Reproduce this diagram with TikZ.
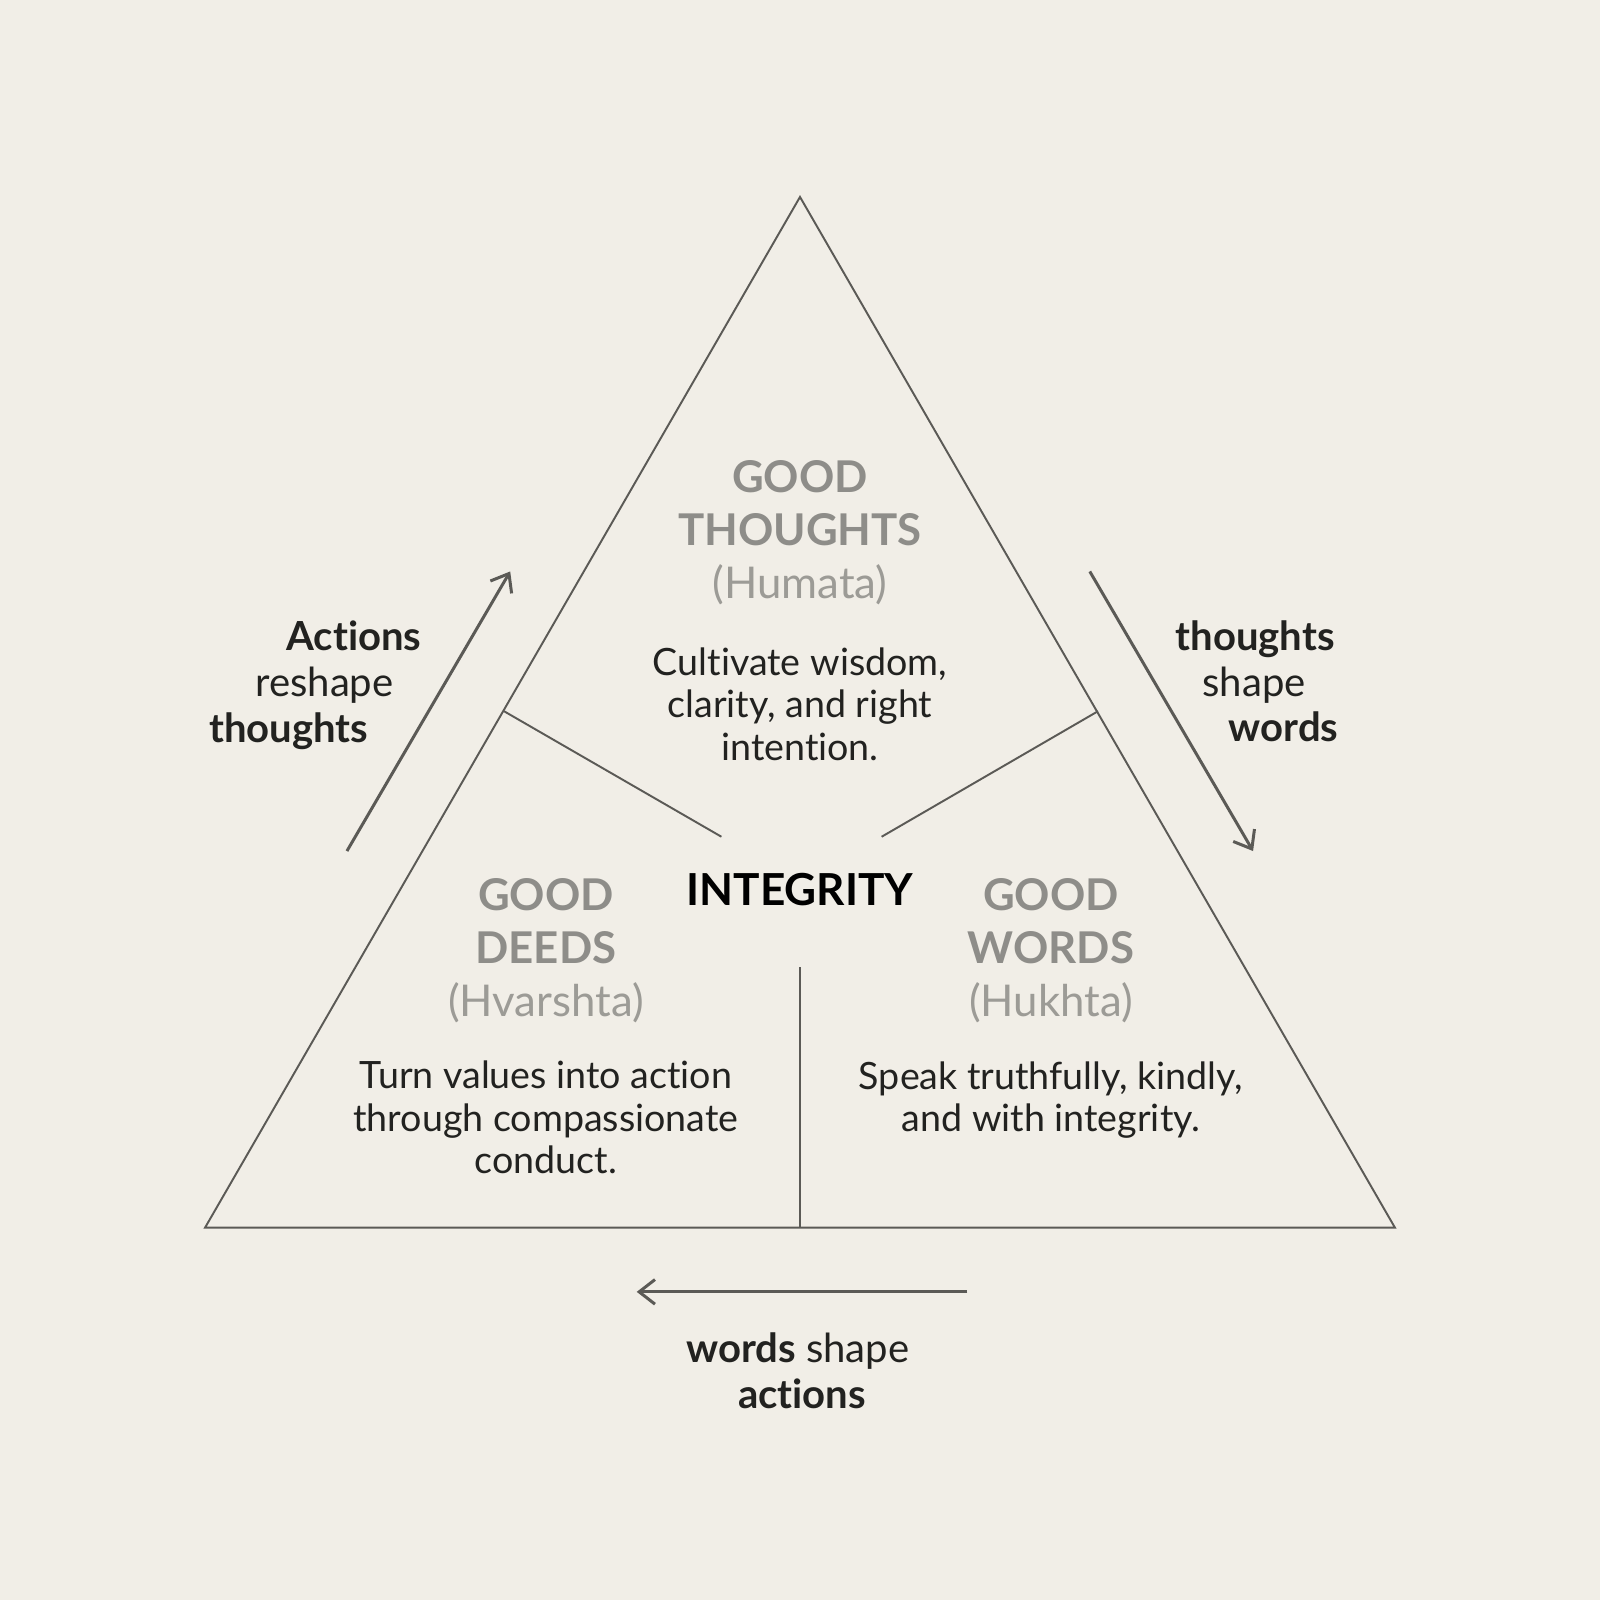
\documentclass[tikz,border=0pt]{standalone}
\usepackage{fontspec}
\setmainfont{Lato}[Ligatures=NoCommon]
\usetikzlibrary{arrows.meta}
\definecolor{bgcol}{HTML}{F1EEE7}
\definecolor{linecol}{HTML}{5B5A56}
\definecolor{headcol}{HTML}{8E8D89}
\definecolor{subcol}{HTML}{9C9B96}
\definecolor{textcol}{HTML}{222220}
\tikzset{
  edge/.style={draw=linecol, line width=0.55pt},
  flow/.style={draw=linecol, line width=0.85pt, -{Straight Barb[length=4.5pt, width=7pt, line width=0.85pt]}},
  head/.style={inner sep=0pt, align=center, text=headcol, font=\bfseries\fontsize{12.45}{15.1}\selectfont},
  desc/.style={inner sep=0pt, align=center, text=textcol, font=\fontsize{10.7}{12.1}\selectfont},
  lbl/.style={inner sep=0pt, text=textcol, font=\fontsize{11.4}{12.8}\selectfont},
  lblb/.style={lbl, font=\bfseries\fontsize{11.4}{12.8}\selectfont},
}
\begin{document}
\begin{tikzpicture}[x=16cm/1568, y=-16cm/1568]
  \fill[bgcol] (0,0) rectangle (1568,1568);
  \useasboundingbox (0,0) rectangle (1568,1568);

  % triangle and dividers
  \coordinate (apex) at (784,193);
  \coordinate (bl) at (201,1203);
  \coordinate (br) at (1367,1203);
  \coordinate (ml) at (494,697);
  \coordinate (mr) at (1076,697);
  \coordinate (cl) at (707,820);
  \coordinate (cr) at (864,820);
  \coordinate (cb) at (784,948);
  \coordinate (bm) at (784,1203);
  \draw[edge] (apex) -- (br) -- (bl) -- cycle;
  \draw[edge] (ml) -- (cl);
  \draw[edge] (mr) -- (cr);
  \draw[edge] (cb) -- (bm);

  % cycle arrows
  \coordinate (la) at (340,834);
  \coordinate (lb) at (500,560);
  \coordinate (ra) at (1068,560);
  \coordinate (rb) at (1228,834);
  \coordinate (ba) at (948,1266);
  \coordinate (bb) at (624,1266);
  \draw[flow] (la) -- (lb);
  \draw[flow] (ra) -- (rb);
  \draw[flow] (ba) -- (bb);

  % sections
  \node[head] (thoughts) at (784,522) {GOOD\\THOUGHTS\\{\mdseries\color{subcol}(Humata)}};
  \node[desc] (thoughtsdesc) at (784,690) {Cultivate wisdom,\\clarity, and right\\intention.};
  \node[inner sep=0pt, text=black, font=\bfseries\fontsize{12.55}{15}\selectfont] (integrity) at (784,872) {INTEGRITY};
  \node[head] (deeds) at (535,932) {GOOD\\DEEDS\\{\mdseries\color{subcol}(Hvarshta)}};
  \node[desc] (deedsdesc) at (535,1095) {Turn values into action\\through compassionate\\conduct.};
  \node[head] (words) at (1030,932) {GOOD\\WORDS\\{\mdseries\color{subcol}(Hukhta)}};
  \node[desc] (wordsdesc) at (1030,1078) {Speak truthfully, kindly,\\and with integrity.};

  % arrow labels
  \node[lblb] (l1) at (347,623) {Actions};
  \node[lbl] (l2) at (318,671) {reshape};
  \node[lblb] (l3) at (283,717) {thoughts};
  \node[lblb] (r1) at (1230,626) {thoughts};
  \node[lbl] (r2) at (1229,671) {shape};
  \node[lblb] (r3) at (1258,712) {words};
  \node[lbl] (b1) at (782,1324) {\textbf{words} shape};
  \node[lblb] (b2) at (786,1366) {actions};
\end{tikzpicture}
\end{document}
